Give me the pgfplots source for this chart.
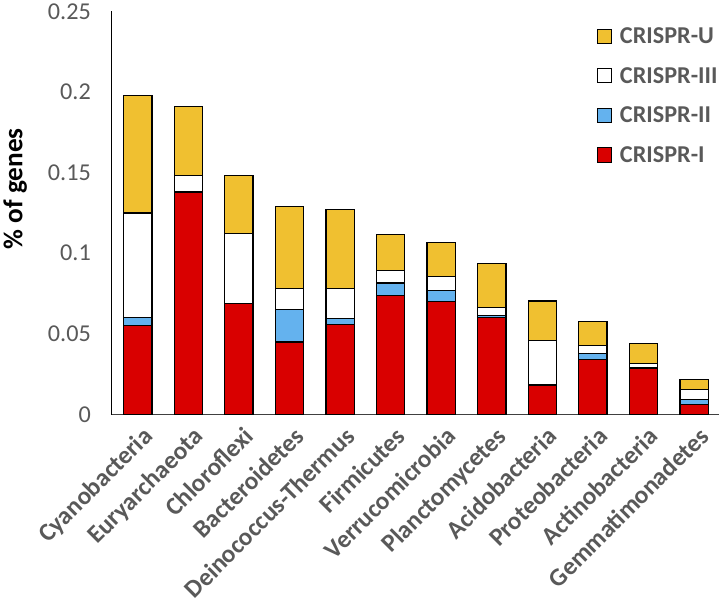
\documentclass[border=0pt]{standalone}
\usepackage{fontspec}
\setmainfont{Carlito}
\usepackage{pgfplots}
\pgfplotsset{compat=1.18}
\definecolor{cI}{RGB}{217,0,0}
\definecolor{cII}{RGB}{100,178,238}
\definecolor{cIII}{RGB}{255,255,255}
\definecolor{cU}{RGB}{240,192,48}
\definecolor{txt}{RGB}{89,89,89}
\begin{document}
\begin{tikzpicture}
\begin{axis}[
  scale only axis,
  width=603pt, height=400pt,
  ybar stacked,
  bar width=28pt,
  xmin=-0.52, xmax=11.5,
  ymin=0, ymax=0.25,
  ytick={0,0.05,0.1,0.15,0.2,0.25},
  scaled y ticks=false,
  yticklabel style={/pgf/number format/fixed,/pgf/number format/precision=2,
     /pgf/number format/assume math mode=true, font=\fontsize{24}{28}\selectfont, text=txt, xshift=-17pt},
  xtick={0,...,11},
  xticklabels={Cyanobacteria,Euryarchaeota,Chloroflexi,Bacteroidetes,Deinococcus-Thermus,Firmicutes,Verrucomicrobia,Planctomycetes,Acidobacteria,Proteobacteria,Actinobacteria,Gemmatimonadetes},
  xticklabel style={rotate=45, anchor=north east, font=\bfseries\fontsize{25}{28}\selectfont, text=txt, inner sep=2pt, xshift=-3pt, yshift=-8pt},
  major tick length=0pt,
  axis x line*=bottom,
  axis y line*=left,
  x axis line style={-, draw=black!75, line width=1.3pt},
  y axis line style={-, draw=black, line width=1pt},
  ylabel={\% of genes},
  ylabel style={font=\bfseries\fontsize{27}{30}\selectfont, at={(ticklabel cs:0.56)}},
  ylabel shift=14pt,
  every axis plot/.append style={draw=black, line width=1.2pt},
  reverse legend,
  legend style={draw=none, fill=none, at={(rel axis cs:0.798,0.965)}, anchor=north west,
     font=\bfseries\fontsize{24}{26}\selectfont, text=txt, row sep=18pt, inner sep=0pt,
     /tikz/every odd column/.append style={column sep=6pt}},
  legend image code/.code={\draw[#1, draw=black, line width=1pt] (0pt,-7pt) rectangle (14pt,7pt);},
  legend cell align=left,
]
\addplot[fill=cI] coordinates {(0,0.055) (1,0.138) (2,0.069) (3,0.045) (4,0.0556) (5,0.074) (6,0.070) (7,0.060) (8,0.0183) (9,0.034) (10,0.0286) (11,0.0061)};
\addplot[fill=cII] coordinates {(0,0.005) (1,0) (2,0) (3,0.020) (4,0.004) (5,0.0075) (6,0.0067) (7,0.0014) (8,0) (9,0.004) (10,0.0005) (11,0.0033)};
\addplot[fill=cIII] coordinates {(0,0.065) (1,0.010) (2,0.043) (3,0.013) (4,0.0184) (5,0.0077) (6,0.0087) (7,0.0049) (8,0.0275) (9,0.0047) (10,0.0026) (11,0.0062)};
\addplot[fill=cU] coordinates {(0,0.073) (1,0.043) (2,0.036) (3,0.051) (4,0.0493) (5,0.0222) (6,0.0213) (7,0.0275) (8,0.0246) (9,0.0148) (10,0.0123) (11,0.0063)};
\legend{CRISPR-I,CRISPR-II,CRISPR-III,CRISPR-U}
\end{axis}
\end{tikzpicture}
\end{document}
